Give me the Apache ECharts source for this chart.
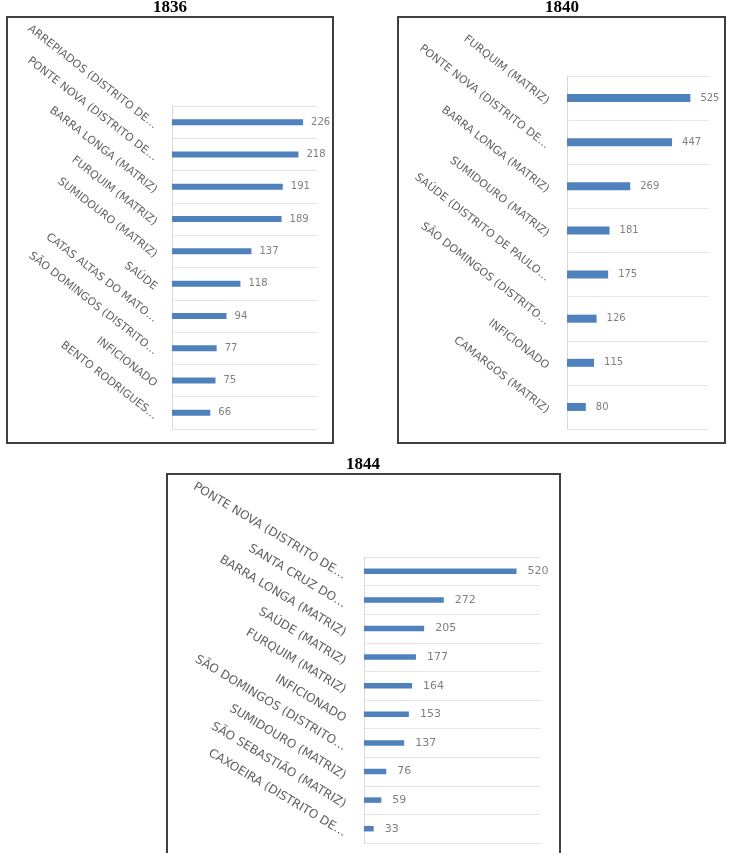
<!DOCTYPE html>
<html>
<head>
<meta charset="utf-8">
<script src="https://cdn.jsdelivr.net/npm/echarts@6/dist/echarts.min.js"></script>
<style>
  html, body { margin: 0; padding: 0; background: #fff; }
  #chart { width: 731px; height: 853px; }
</style>
</head>
<body>
<div id="chart"></div>
<script>
// 1836
const places1836 = ['ARREPIADOS (DISTRITO DE…', 'PONTE NOVA (DISTRITO DE…', 'BARRA LONGA (MATRIZ)', 'FURQUIM (MATRIZ)',
  'SUMIDOURO (MATRIZ)', 'SAÚDE', 'CATAS ALTAS DO MATO…', 'SÃO DOMINGOS (DISTRITO…', 'INFICIONADO', 'BENTO RODRIGUES…'];
const values1836 = [226, 218, 191, 189, 137, 118, 94, 77, 75, 66];

// 1840
const places1840 = ['FURQUIM (MATRIZ)', 'PONTE NOVA (DISTRITO DE…', 'BARRA LONGA (MATRIZ)', 'SUMIDOURO (MATRIZ)',
  'SAÚDE (DISTRITO DE PAULO…', 'SÃO DOMINGOS (DISTRITO…', 'INFICIONADO', 'CAMARGOS (MATRIZ)'];
const values1840 = [525, 447, 269, 181, 175, 126, 115, 80];

// 1844
const places1844 = ['PONTE NOVA (DISTRITO DE…', 'SANTA CRUZ DO…', 'BARRA LONGA (MATRIZ)', 'SAÚDE (MATRIZ)',
  'FURQUIM (MATRIZ)', 'INFICIONADO', 'SÃO DOMINGOS (DISTRITO…', 'SUMIDOURO (MATRIZ)', 'SÃO SEBASTIÃO (MATRIZ)', 'CAXOEIRA (DISTRITO DE…'];
const values1844 = [520, 272, 205, 177, 164, 153, 137, 76, 59, 33];

const years = ['1836', '1840', '1844'];

const chart = echarts.init(document.getElementById('chart'));
const FONT = 'DejaVu Sans';

// layout per painel
const panels = [
  { cats: places1836, vals: values1836, max: 250, grid: { left: 172, top: 106, width: 145, height: 323 },
    bar: 6, rot: -38, fs: 11, vfs: 10, dist: 8, margin: 13 },
  { cats: places1840, vals: values1840, max: 600, grid: { left: 567, top: 76, width: 141, height: 353 },
    bar: 8, rot: -38, fs: 11, vfs: 10, dist: 10, margin: 16 },
  { cats: places1844, vals: values1844, max: 600, grid: { left: 364, top: 557, width: 176, height: 286 },
    bar: 5.5, rot: -31, fs: 12, vfs: 11, dist: 11, margin: 16 }
];

const grids = [], xAxes = [], yAxes = [], series = [];
panels.forEach((p, i) => {
  grids.push(p.grid);
  xAxes.push({ type: 'value', gridIndex: i, min: 0, max: p.max, show: false });
  yAxes.push({
    type: 'category', gridIndex: i, data: p.cats, inverse: true,
    axisLine: { lineStyle: { color: '#d9d9d9' } },
    axisTick: { show: false },
    splitLine: { show: true, lineStyle: { color: '#e4e4e4' } },
    axisLabel: { rotate: p.rot, margin: p.margin, verticalAlign: 'top', color: '#626262', fontSize: p.fs, fontFamily: FONT }
  });
  series.push({
    type: 'bar', xAxisIndex: i, yAxisIndex: i, data: p.vals, barWidth: p.bar,
    itemStyle: { color: '#4f81bd' },
    label: { show: true, position: 'right', distance: p.dist, color: '#7f7f7f', fontSize: p.vfs, fontFamily: FONT }
  });
});

const boxStyle = { fill: 'none', stroke: '#3f3f3f', lineWidth: 2 };
const titleStyle = { fill: '#000', font: 'bold 17px "Liberation Serif"', align: 'center', verticalAlign: 'middle' };

chart.setOption({
  animation: false,
  grid: grids,
  xAxis: xAxes,
  yAxis: yAxes,
  series: series,
  graphic: [
    { type: 'rect', shape: { x: 7, y: 17, width: 326, height: 426 }, style: boxStyle, silent: true },
    { type: 'rect', shape: { x: 398, y: 17, width: 327, height: 426 }, style: boxStyle, silent: true },
    { type: 'rect', shape: { x: 167, y: 474, width: 393, height: 400 }, style: boxStyle, silent: true },
    { type: 'text', x: 170, y: 8, style: Object.assign({ text: years[0] }, titleStyle) },
    { type: 'text', x: 562, y: 8, style: Object.assign({ text: years[1] }, titleStyle) },
    { type: 'text', x: 363, y: 465, style: Object.assign({ text: years[2] }, titleStyle) }
  ]
});
window.addEventListener('resize', () => chart.resize());
</script>
</body>
</html>
